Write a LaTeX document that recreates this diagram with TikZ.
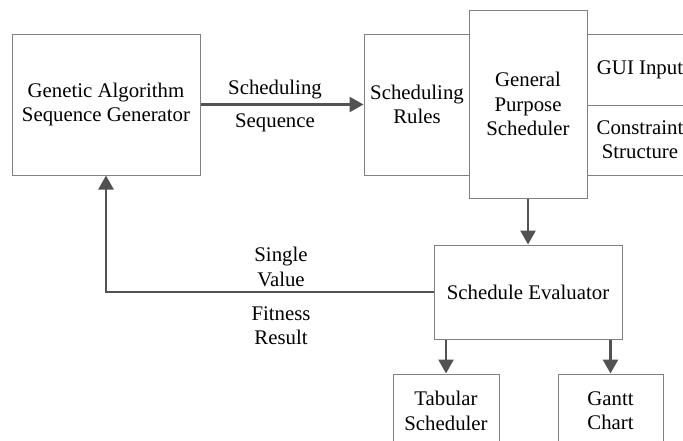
\documentclass[tikz,border=0pt]{standalone}
\usepackage{fontspec}
\setmainfont{Liberation Serif}
\usetikzlibrary{arrows.meta}

\begin{document}
\begin{tikzpicture}[x=0.5pt,y=-0.5pt,
  every node/.style={align=center,font=\rmfamily\fontsize{10.4}{12.2}\selectfont},
  box/.style={rectangle,draw=black!50,line width=0.5pt,inner sep=2pt},
  flow/.style={draw=black!68,line width=1.3pt,-{Triangle[length=7pt,width=7.5pt]}}]
  \useasboundingbox (0,0) rectangle (683,440);
  \clip (0,0) rectangle (683,440);

  \node[box,minimum width=94pt,minimum height=70.5pt] (ga) at (106,104.5) {Genetic Algorithm\\Sequence Generator};
  \node[box,minimum width=53pt,minimum height=70.5pt] (sr) at (417,104.5) {Scheduling\\Rules};
  \node[box,minimum width=53pt,minimum height=35.5pt] (gui) at (640,69.5) {GUI Input};
  \node[box,minimum width=53pt,minimum height=35pt] (cs) at (640,140) {Constraint\\Structure};
  \node[box,minimum width=59pt,minimum height=94pt,fill=white] (gps) at (528,104) {General\\Purpose\\Scheduler};
  \node[box,minimum width=94pt,minimum height=47pt] (se) at (528,292) {Schedule Evaluator};

  \node[box,minimum width=53pt,minimum height=37pt] (ts) at (446,411) {Tabular\\Scheduler};
  \node[box,minimum width=52.5pt,minimum height=37pt] (gc) at (610.5,411) {Gantt\\Chart};

  \draw[flow] (ga) -- (sr);
  \node[anchor=south,inner sep=1pt] (lsched) at (275,101) {Scheduling};
  \node[anchor=north,inner sep=1pt] (lseq) at (275,111) {Sequence};

  \draw[flow] (gps) -- (se);
  \draw[flow] (se.west) -| (ga.south);
  \node[anchor=south,inner sep=1pt] (lsingle) at (281,289) {Single\\Value};
  \node[anchor=north,inner sep=1pt] (lfit) at (281,304) {Fitness\\Result};

  \draw[flow] (se.south -| ts.north) -- (ts.north);
  \draw[flow] (se.south -| gc.north) -- (gc.north);
\end{tikzpicture}
\end{document}
